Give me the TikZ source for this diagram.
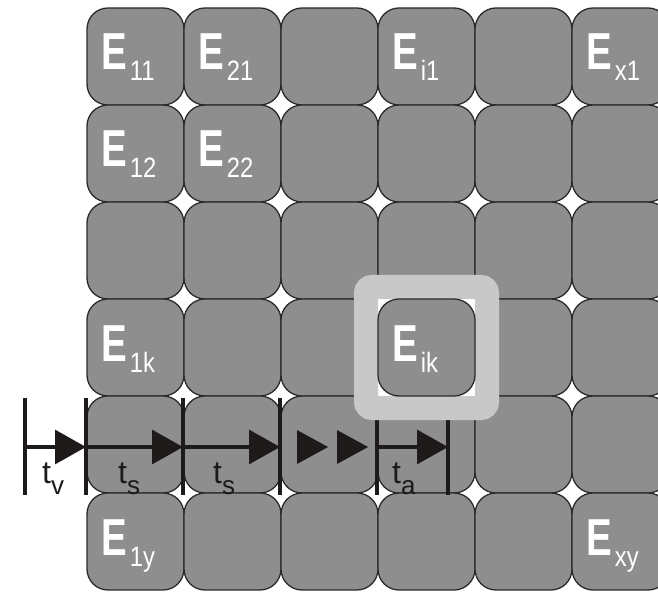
\documentclass[tikz,border=0pt]{standalone}
\usepackage{fontspec}
\setmainfont{Liberation Sans}
\usetikzlibrary{arrows.meta}
\definecolor{cellg}{HTML}{8E8E8E}
\definecolor{rimg}{HTML}{C8C8C8}
\definecolor{edge}{HTML}{2B2B2B}
\definecolor{ink}{HTML}{1E1A1A}
\tikzset{
  elem/.style={draw=edge, fill=cellg, line width=1.3pt, rounded corners=21pt, minimum width=97pt, minimum height=97pt, inner sep=0pt, outer sep=0pt},
  tick/.style={draw=ink, line width=4pt},
  span/.style={draw=ink, line width=3.2pt, -{Triangle[length=31pt, width=34pt]}}}
\newcommand{\elab}[1]{\scalebox{0.74}[1]{\fontsize{52}{52}\selectfont\bfseries E}\kern3pt\raisebox{-11pt}{\scalebox{0.85}[1]{\fontsize{28}{28}\selectfont #1}}}
\newcommand{\tlab}[1]{\fontsize{32}{32}\selectfont t\raisebox{-11pt}{\fontsize{26}{26}\selectfont #1}}

\begin{document}
\begin{tikzpicture}[x=1pt, y=-1pt,
  lbl/.style={anchor=base west, inner sep=0pt, text=white},
  tl/.style={anchor=base west, inner sep=0pt, text=ink}]
\useasboundingbox (0,0) rectangle (658,593);
% grid of elements
\foreach \col in {1,...,6}
  \foreach \row in {1,...,6}
    \node[elem] (c\col\row) at ({87+97*(\col-1)+48.5},{8+97*(\row-1)+48.5}) {};
\foreach \col/\row/\s in {1/1/11, 2/1/21, 4/1/i1, 6/1/x1, 1/2/12, 2/2/22, 1/4/1k, 1/6/1y, 6/6/xy}
  \node[lbl] (e\s) at ([xshift=14pt, yshift=-62pt]c\col\row.north west) {\elab{\s}};
% time line
\coordinate (t0) at (25,447);
\coordinate (t1) at (86,447);
\coordinate (t2) at (183,447);
\coordinate (t3) at (280,447);
\coordinate (t4) at (377,447);
\coordinate (t5) at (448,447);
\foreach \i in {0,...,5}
  \draw[tick] ([yshift=49pt]t\i) -- ([yshift=-48pt]t\i);
\draw[span] (t0) -- (t1);
\draw[span] (t1) -- (t2);
\draw[span] (t2) -- (t3);
\draw[span] (t4) -- (t5);
\foreach \d in {17,57}
  \fill[ink] ([shift={(\d,-17)}]t3) -- ([shift={(\d+31,0)}]t3) -- ([shift={(\d,17)}]t3) -- cycle;
\node[tl] (lv) at ([shift={(17,36)}]t0) {\tlab{v}};
\node[tl] (ls1) at ([shift={(32,36)}]t1) {\tlab{s}};
\node[tl] (ls2) at ([shift={(30,36)}]t2) {\tlab{s}};
\node[tl] (la) at ([shift={(15,36)}]t4) {\tlab{a}};
% highlighted element
\draw[rimg, line width=24pt, fill=white, rounded corners=6pt] ([shift={(-12,-12)}]c44.north west) rectangle ([shift={(12,12)}]c44.south east);
\node[elem] (ik) at (c44) {};
\node[lbl] (eik) at ([xshift=14pt, yshift=-62pt]ik.north west) {\elab{ik}};
\end{tikzpicture}
\end{document}
